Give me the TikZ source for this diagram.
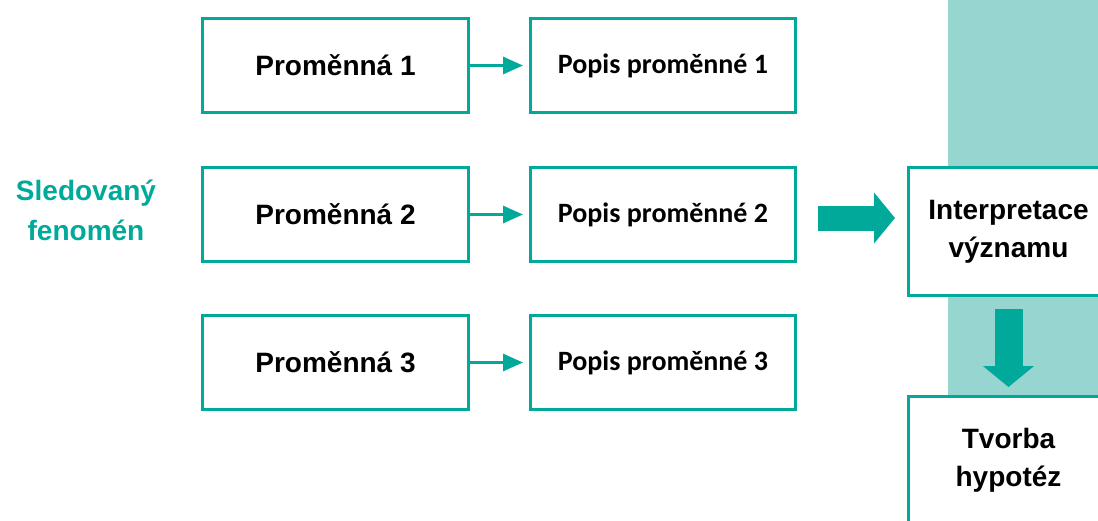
\documentclass[tikz,border=0pt]{standalone}
\usepackage{fontspec}
\setmainfont{Liberation Sans}
\newfontfamily\calib{Carlito}
\usetikzlibrary{arrows.meta,calc}
\definecolor{teal1}{RGB}{0,169,154}
\definecolor{tealband}{RGB}{151,213,208}
\tikzset{
  box/.style={draw=teal1, line width=3pt, fill=white, inner sep=0pt,
    align=center, font=\fontsize{28}{38}\selectfont\bfseries},
  varbox/.style={box, minimum width=266pt, minimum height=94pt},
  descbox/.style={box, minimum width=265pt, minimum height=94pt,
    font=\fontsize{28}{38}\calib\bfseries},
  sidebox/.style={box, minimum width=200pt, minimum height=128pt},
  thin arrow/.style={draw=teal1, line width=3pt,
    -{Triangle[length=20pt,width=17pt]}, shorten >=6pt},
  fat arrow/.style={draw=teal1, -{Triangle[length=21pt,width=50pt]}},
}
\begin{document}
\begin{tikzpicture}[x=1pt,y=-1pt]
  \useasboundingbox (0,0) rectangle (1098,520);
  % light band behind the right column
  \fill[tealband] (948,0) rectangle (1098,520);

  % variables and their descriptions
  \node[varbox] (v1) at (335.5,65.5) {Proměnná 1};
  \node[varbox] (v2) at (335.5,214.5) {Proměnná 2};
  \node[varbox] (v3) at (335.5,362.5) {Proměnná 3};
  \node[descbox] (d1) at (663,65.5) {Popis proměnné 1};
  \node[descbox] (d2) at (663,214.5) {Popis proměnné 2};
  \node[descbox] (d3) at (663,362.5) {Popis proměnné 3};

  \draw[thin arrow] (v1.east) -- (d1.west);
  \draw[thin arrow] (v2.east) -- (d2.west);
  \draw[thin arrow] (v3.east) -- (d3.west);

  % observed phenomenon label
  \node[align=center, text=teal1, font=\fontsize{28}{40}\selectfont\bfseries]
    (fen) at (86,210) {Sledovaný\\fenomén};

  % right column
  \node[sidebox] (interp) at (1008.5,231.5) {Interpretace\\významu};
  \node[sidebox] (hyp) at (1008.5,460.5) {Tvorba\\hypotéz};

  \coordinate (fa) at ($(d2.east)+(21,3.5)$);
  \coordinate (fb) at ($(interp.west |- fa)+(-12,0)$);
  \draw[fat arrow, line width=25pt] (fa) -- (fb);
  \draw[fat arrow, line width=28pt, shorten <=12pt, shorten >=8pt]
    (interp.south) -- (hyp.north);
\end{tikzpicture}
\end{document}
